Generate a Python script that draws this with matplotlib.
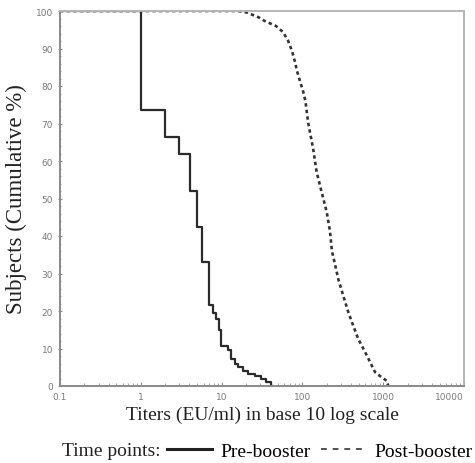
import numpy as np
import matplotlib
matplotlib.use("Agg")
import matplotlib.pyplot as plt
from matplotlib.lines import Line2D

# reverse cumulative distribution of titers (% of subjects >= titer)
pre_titer = [0.1, 1.0, 2.0, 3.0, 4.1, 5.0, 5.8, 6.9, 7.8, 8.6, 9.4, 9.9, 12.0,
             13.2, 14.5, 15.9, 18.3, 21.0, 25.6, 30.9, 35.6, 41.1, 43.2]
pre_pct = [100, 73.5, 66.5, 62, 52, 42.5, 33, 21.5, 19.5, 18, 15, 10.8, 9.5,
           7.2, 5.9, 5.0, 4.1, 3.2, 2.6, 1.9, 1.0, 0, 0]

post_titer = [0.1, 16, 20.5, 28.2, 34.4, 47.1, 57.5, 66.4, 74.4, 81, 85.7, 93.4,
              101.7, 109, 118, 136, 150, 173, 200, 220, 232, 253, 278, 321, 370,
              427, 492, 596, 687, 792, 958, 1104, 1156]
post_pct = [100, 100, 99.6, 98.4, 97.3, 96.0, 94.4, 92.1, 89.3, 86.4, 84.0, 81.3,
            78.7, 76.0, 70.1, 63.2, 57.1, 51.7, 46.4, 41.1, 36.0, 32.5, 28.5, 24.0,
            19.7, 16.0, 12.5, 9.1, 6.4, 3.7, 2.3, 1.4, 0]

x_ticks = [0.1, 1, 10, 100, 1000, 10000]
x_labels = ["0.1", "1", "10", "100", "1000", "10000"]
y_ticks = list(range(0, 101, 10))

serif = "Liberation Serif"

fig = plt.figure(figsize=(4.75, 4.64), dpi=100)
ax = fig.add_axes([60 / 475, 1 - 387 / 464, 404 / 475, 375 / 464])

ax.plot(pre_titer, pre_pct, drawstyle="steps-post", color="#2b2b2b", lw=1.6)
ax.plot(post_titer, post_pct, color="#333333", lw=1.9, linestyle=(0, (1.3, 1.2)))

ax.set_xscale("log")
ax.set_xlim(0.1, 10000)
ax.set_ylim(0, 100)
ax.set_xticks(x_ticks)
ax.set_xticklabels(x_labels)
ax.get_xticklabels()[-1].set_ha("right")
ax.set_yticks(y_ticks)
ax.set_yticks(range(0, 101, 2), minor=True)

for side in ["left", "bottom"]:
    ax.spines[side].set_color("#8a8a8a")
    ax.spines[side].set_linewidth(1.4)
for side in ["top", "right"]:
    ax.spines[side].set_color("#b5b5b5")
    ax.spines[side].set_linewidth(1.4)

ax.tick_params(axis="both", which="major", labelsize=6.5, labelcolor="#7a7a7a",
               color="#8a8a8a", length=3, width=0.8)
ax.tick_params(axis="both", which="minor", color="#9a9a9a", length=2, width=0.6)
ax.tick_params(axis="x", which="both", direction="in", pad=4)
ax.tick_params(axis="y", which="both", direction="inout")

ax.set_xlabel("Titers (EU/ml) in base 10 log scale", family=serif,
              fontsize=14, color="#222222", labelpad=4)
ax.set_ylabel("Subjects (Cumulative %)", family=serif, fontsize=16.5,
              color="#222222", labelpad=6)

fig.text(62 / 475, 1 - 452 / 464, "Time points:", family=serif, fontsize=14,
         color="#222222", va="center", ha="left")
handles = [Line2D([], [], color="#222222", lw=2.2),
           Line2D([], [], color="#333333", lw=1.2, linestyle=(0, (3.5, 3.5)))]
fig.legend(handles, ["Pre-booster", "Post-booster"], loc="center left",
           bbox_to_anchor=(167 / 475, 1 - 452 / 464), ncol=2, frameon=False,
           handlelength=2.3, handletextpad=0.45, columnspacing=0.55,
           borderpad=0, borderaxespad=0,
           prop={"family": serif, "size": 14})

fig.savefig("out.png", dpi=100)
